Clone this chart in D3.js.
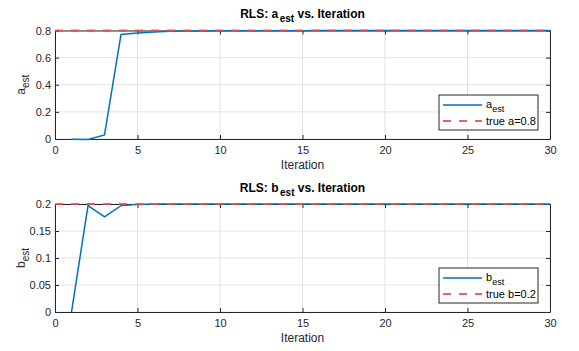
<!DOCTYPE html>
<html>
<head>
<meta charset="utf-8">
<script src="https://cdn.jsdelivr.net/npm/d3@7"></script>
<style>
  body { margin: 0; background: #fff; }
  svg { font-family: "Liberation Sans", Arial, sans-serif; }
</style>
</head>
<body>
<div id="chart"></div>
<script>
// Datos
const iterations = [1,2,3,4,5,6,7,8,9,10,11,12,13,14,15,16,17,18,19,20,21,22,23,24,25,26,27,28,29,30]
const aEst = [-0.002,-0.003,0.03,0.77,0.781,0.789,0.794,0.796,0.797,0.798,0.798,0.799,0.799,0.799,0.799,0.8,0.8,0.8,0.8,0.8,0.8,0.8,0.8,0.8,0.8,0.8,0.8,0.8,0.8,0.8]
const bEst = [0,0.197,0.176,0.197,0.199,0.2,0.2,0.2,0.2,0.2,0.2,0.2,0.2,0.2,0.2,0.2,0.2,0.2,0.2,0.2,0.2,0.2,0.2,0.2,0.2,0.2,0.2,0.2,0.2,0.2]
const trueA = 0.8
const trueB = 0.2
const xTicks = [0,5,10,15,20,25,30]
const aTicks = [0,0.2,0.4,0.6,0.8]
const bTicks = [0,0.05,0.1,0.15,0.2]

const width = 579, height = 351
const svg = d3.select("#chart").append("svg")
    .attr("width", width).attr("height", height)

const axisColor = "#262626"
const gridColor = "#e3e3e3"
const blue = "#0072bd"
const red = "#ee4c50"

function panel({ top, bottom, values, truth, yTicks, yMax, name, trueLabel, fmt }) {
    const x = d3.scaleLinear().domain([0, 30]).range([55, 550])
    const y = d3.scaleLinear().domain([0, yMax]).range([bottom, top])
    const g = svg.append("g")

    // Rejilla
    g.append("g").selectAll("line").data(xTicks).join("line")
        .attr("x1", d => x(d)).attr("x2", d => x(d))
        .attr("y1", top).attr("y2", bottom)
        .attr("stroke", gridColor).attr("stroke-width", 1)
    g.append("g").selectAll("line").data(yTicks).join("line")
        .attr("x1", 55).attr("x2", 550)
        .attr("y1", d => y(d)).attr("y2", d => y(d))
        .attr("stroke", gridColor).attr("stroke-width", 1)

    // Ejes
    const xAxis = g.append("g")
        .attr("transform", `translate(0,${bottom})`)
        .call(d3.axisBottom(x).tickValues(xTicks).tickSize(-4).tickSizeOuter(0).tickPadding(7))
    const yAxis = g.append("g")
        .attr("transform", `translate(55,0)`)
        .call(d3.axisLeft(y).tickValues(yTicks).tickFormat(fmt).tickSize(-4).tickSizeOuter(0).tickPadding(4))
    const xAxisTop = g.append("g")
        .attr("transform", `translate(0,${top})`)
        .call(d3.axisTop(x).tickValues(xTicks).tickSize(-4).tickSizeOuter(0).tickFormat(""))
    const yAxisRight = g.append("g")
        .attr("transform", `translate(550,0)`)
        .call(d3.axisRight(y).tickValues(yTicks).tickSize(-4).tickSizeOuter(0).tickFormat(""))
    for (const ax of [xAxis, yAxis, xAxisTop, yAxisRight]) {
        ax.select(".domain").attr("stroke", axisColor)
        ax.selectAll(".tick line").attr("stroke", axisColor)
        ax.selectAll(".tick text").attr("fill", axisColor).style("font-size", "11px")
    }

    // Líneas
    const line = d3.line().x((d, i) => x(iterations[i])).y(d => y(d))
    g.append("path")
        .datum(values)
        .attr("d", line)
        .attr("fill", "none").attr("stroke", blue).attr("stroke-width", 1.5)
    g.append("line")
        .attr("x1", x(0)).attr("x2", x(30))
        .attr("y1", y(truth)).attr("y2", y(truth))
        .attr("stroke", red).attr("stroke-opacity", 0.9)
        .attr("stroke-width", 2).attr("stroke-dasharray", "8,8")

    // Títulos
    const title = g.append("text")
        .attr("x", 302.5).attr("y", top - 12.5)
        .attr("text-anchor", "middle")
        .attr("fill", "#000").style("font-size", "12px").style("font-weight", "bold")
    title.append("tspan").text(`RLS: ${name}`)
    title.append("tspan").attr("dy", 4).attr("dx", 1.5).style("font-size", "10px").text("est")
    title.append("tspan").attr("dy", -4).text(" vs. Iteration")

    g.append("text")
        .attr("x", 302.5).attr("y", bottom + 30)
        .attr("text-anchor", "middle")
        .attr("fill", axisColor).style("font-size", "12px")
        .text("Iteration")

    const ylab = g.append("text")
        .attr("transform", `translate(25,${(top + bottom) / 2}) rotate(-90)`)
        .attr("text-anchor", "middle")
        .attr("fill", axisColor).style("font-size", "12px")
    ylab.append("tspan").text(name)
    ylab.append("tspan").attr("dy", 4).style("font-size", "10px").text("est")

    // Leyenda
    const lx = 439, ly = bottom - 44
    const leg = g.append("g")
    leg.append("rect")
        .attr("x", lx).attr("y", ly).attr("width", 99).attr("height", 35)
        .attr("fill", "#fff").attr("stroke", axisColor).attr("stroke-width", 1)
    leg.append("line")
        .attr("x1", lx + 4).attr("x2", lx + 43)
        .attr("y1", ly + 10).attr("y2", ly + 10)
        .attr("stroke", blue).attr("stroke-width", 1.5)
    const t1 = leg.append("text")
        .attr("x", lx + 47).attr("y", ly + 13)
        .attr("fill", "#000").style("font-size", "11px")
    t1.append("tspan").text(name)
    t1.append("tspan").attr("dy", 4).style("font-size", "9px").text("est")
    leg.append("line")
        .attr("x1", lx + 4).attr("x2", lx + 43)
        .attr("y1", ly + 26).attr("y2", ly + 26)
        .attr("stroke", red).attr("stroke-opacity", 0.9)
        .attr("stroke-width", 2).attr("stroke-dasharray", "8,8")
    leg.append("text")
        .attr("x", lx + 47).attr("y", ly + 30)
        .attr("fill", "#000").style("font-size", "11px")
        .text(trueLabel)
}

panel({ top: 30.5, bottom: 139, values: aEst, truth: trueA, yTicks: aTicks, yMax: 0.8,
        name: "a", trueLabel: "true a=0.8", fmt: d3.format("~g") })
panel({ top: 204, bottom: 312, values: bEst, truth: trueB, yTicks: bTicks, yMax: 0.2,
        name: "b", trueLabel: "true b=0.2", fmt: d3.format("~g") })
</script>
</body>
</html>
